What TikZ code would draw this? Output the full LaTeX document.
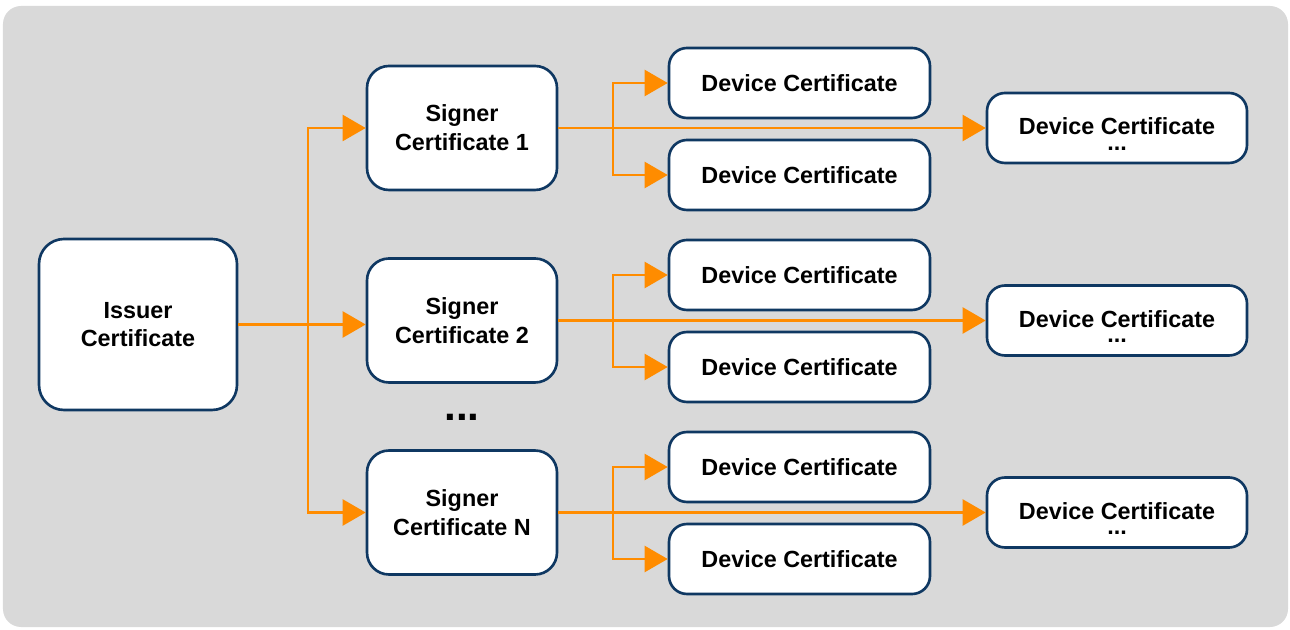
\documentclass[tikz,border=0pt]{standalone}
\usepackage{fontspec}
\setmainfont{Liberation Sans}
\usetikzlibrary{arrows.meta}
\definecolor{Panel}{HTML}{D9D9D9}
\definecolor{Navy}{HTML}{0F3862}
\definecolor{Flow}{HTML}{FF8C00}
\newcommand{\farlabel}{\rule{0pt}{0.58cm}Device Certificate\\[-7.5pt]...}
\tikzset{
  flowarrow/.style={-{Triangle[length=4.6mm,width=5.2mm]},line width=1.3pt,draw=Flow},
  certbox/.style={align=center,inner sep=0pt,draw=Navy,line width=1.5pt,fill=white,
    text=black,font=\fontsize{13.3}{16.4}\selectfont\bfseries},
  signerbox/.style={certbox,rounded corners=4.4mm,minimum width=3.8cm,minimum height=2.48cm},
  devicebox/.style={certbox,rounded corners=3.6mm,minimum width=5.22cm,minimum height=1.4cm},
}

\begin{document}
\begin{tikzpicture}[x=1cm,y=1cm]
    \useasboundingbox (0,0) rectangle (25.8,12.58);
    \fill[Panel,rounded corners=3.6mm] (0.06,0.04) rectangle (25.76,12.46);

    \node[certbox,rounded corners=5mm,minimum width=3.96cm,minimum height=3.42cm] (issuer) at (2.76,6.09) {Issuer\\Certificate};

    \node[signerbox] (signer1) at (9.24,10.02) {Signer\\Certificate 1};
    \node[signerbox] (signer2) at (9.24,6.17) {Signer\\Certificate 2};
    \node[signerbox] (signerN) at (9.24,2.33) {Signer\\Certificate N};
    \node[font=\fontsize{24}{28}\selectfont\bfseries] (more) at (9.24,4.24) {...};

    \node[devicebox] (dev1a) at (15.99,10.92) {Device Certificate};
    \node[devicebox] (dev1b) at (15.99,9.08) {Device Certificate};
    \node[devicebox] (dev2a) at (15.99,7.08) {Device Certificate};
    \node[devicebox] (dev2b) at (15.99,5.24) {Device Certificate};
    \node[devicebox] (devNa) at (15.99,3.24) {Device Certificate};
    \node[devicebox] (devNb) at (15.99,1.40) {Device Certificate};

    \node[devicebox,minimum width=5.2cm] (far1) at (22.34,10.02) {\farlabel};
    \node[devicebox,minimum width=5.2cm] (far2) at (22.34,6.17) {\farlabel};
    \node[devicebox,minimum width=5.2cm] (farN) at (22.34,2.33) {\farlabel};

    \coordinate (trunk) at (6.16,6.09);
    \coordinate (branch1) at (12.26,10.02);
    \coordinate (branch2) at (12.26,6.17);
    \coordinate (branchN) at (12.26,2.33);

    % issuer to signers
    \draw[flowarrow] (issuer.east) -- (issuer.east -| signer2.west);
    \draw[flowarrow] (trunk) |- (signer1.west);
    \draw[flowarrow] (trunk) |- (signerN.west);

    % signers to devices
    \draw[flowarrow] (signer1.east) -- (far1.west);
    \draw[flowarrow] (branch1) |- (dev1a.west);
    \draw[flowarrow] (branch1) |- (dev1b.west);
    \draw[flowarrow] (signer2.east) -- (far2.west);
    \draw[flowarrow] (branch2) |- (dev2a.west);
    \draw[flowarrow] (branch2) |- (dev2b.west);
    \draw[flowarrow] (signerN.east) -- (farN.west);
    \draw[flowarrow] (branchN) |- (devNa.west);
    \draw[flowarrow] (branchN) |- (devNb.west);
\end{tikzpicture}
\end{document}
